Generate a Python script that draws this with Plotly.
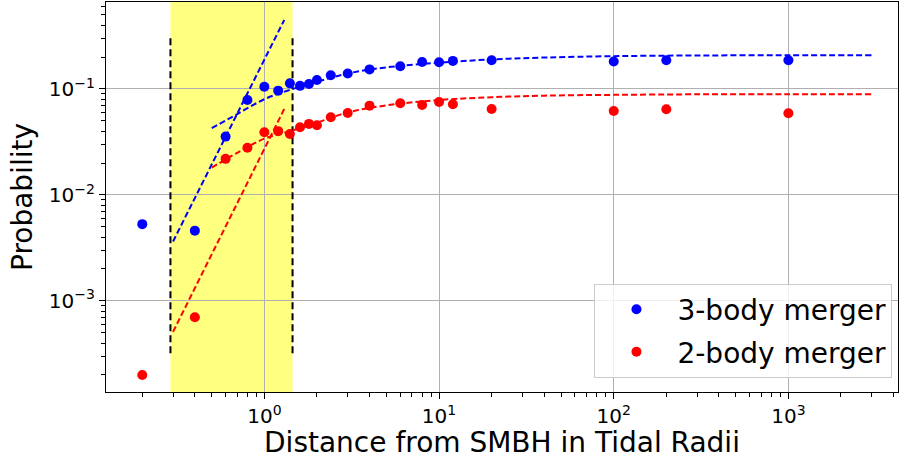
import math
import plotly.graph_objects as go

# Merger probability vs. distance from the SMBH (in tidal radii)
dist = [0.2, 0.4, 0.6, 0.8, 1.0, 1.2, 1.4, 1.6, 1.8, 2.0, 2.4, 3.0, 4.0, 6.0, 8.0,
        10.0, 12.0, 20.0, 100.0, 200.0, 1000.0]
p_three_body = [0.0053, 0.0046, 0.0355, 0.0787, 0.105, 0.0964, 0.113, 0.107, 0.1115,
                0.1216, 0.1345, 0.140, 0.153, 0.164, 0.180, 0.179, 0.184, 0.187,
                0.182, 0.187, 0.187]
p_two_body = [0.0002, 0.0007, 0.0219, 0.0279, 0.039, 0.040, 0.0376, 0.0436, 0.0468,
              0.0455, 0.054, 0.0594, 0.0696, 0.0733, 0.0706, 0.0754, 0.0717, 0.0647,
              0.062, 0.0643, 0.059]

# Saturating fits over the outer region
fit_x = [0.5, 0.7, 1.0, 1.4, 2.0, 3.0, 5.0, 10.0, 20.0, 40.0, 100.0, 300.0, 1000.0, 3000.0]
fit_three_body = [0.0426, 0.058, 0.080, 0.098, 0.117, 0.140, 0.160, 0.177, 0.190,
                  0.198, 0.204, 0.207, 0.208, 0.208]
fit_two_body = [0.0181, 0.025, 0.034, 0.040, 0.048, 0.060, 0.070, 0.0787, 0.0835,
                0.0865, 0.088, 0.089, 0.089, 0.089]

# Steep power-law segments across the inner band
steep_x = [0.30, 1.30]
steep_three_body = [0.00363, 0.448]
steep_two_body = [0.00051, 0.0648]

# Inner band edges and the extent of its dashed markers
band_x = [0.29, 1.45]
band_marker_y = [0.00032, 0.31]

x_range = [0.124, 4240.0]
y_range = [1.38e-4, 0.662]

x_major = [0.1, 1, 10, 100, 1000]
x_major_text = ["10<sup>\u22121</sup>", "10<sup>0</sup>", "10<sup>1</sup>",
                "10<sup>2</sup>", "10<sup>3</sup>"]
y_major = [1e-3, 1e-2, 1e-1]
y_major_text = ["10<sup>\u22123</sup>", "10<sup>\u22122</sup>", "10<sup>\u22121</sup>"]


def minor_ticks(lo, hi):
    vals = []
    for k in range(math.floor(math.log10(lo)), math.ceil(math.log10(hi)) + 1):
        for m in range(2, 10):
            v = m * 10.0 ** k
            if lo <= v <= hi:
                vals.append(v)
    return vals


FONT = "DejaVu Sans"
BLUE = "#0000ff"
RED = "#ff0000"

fig = go.Figure()

for x0 in band_x:
    fig.add_trace(go.Scatter(
        x=[x0, x0], y=band_marker_y, mode="lines",
        line=dict(color="black", width=2, dash="7px,4px"),
        showlegend=False, hoverinfo="skip"))

fig.add_trace(go.Scatter(
    x=steep_x, y=steep_three_body, mode="lines",
    line=dict(color=BLUE, width=2, dash="6px,3px"), showlegend=False))
fig.add_trace(go.Scatter(
    x=steep_x, y=steep_two_body, mode="lines",
    line=dict(color=RED, width=2, dash="6px,3px"), showlegend=False))

fig.add_trace(go.Scatter(
    x=fit_x, y=fit_three_body, mode="lines", line_shape="spline",
    line=dict(color=BLUE, width=2, dash="6px,3px"), showlegend=False))
fig.add_trace(go.Scatter(
    x=fit_x, y=fit_two_body, mode="lines", line_shape="spline",
    line=dict(color=RED, width=2, dash="6px,3px"), showlegend=False))

fig.add_trace(go.Scatter(
    x=dist, y=p_three_body, mode="markers", name="3-body merger",
    legendgroup="a", marker=dict(color=BLUE, size=10)))
fig.add_trace(go.Scatter(
    x=dist, y=p_two_body, mode="markers", name="2-body merger",
    legendgroup="b", marker=dict(color=RED, size=10)))

fig.add_shape(type="rect", xref="x", yref="paper",
              x0=band_x[0], x1=band_x[1], y0=0, y1=1,
              fillcolor="rgb(255,255,128)", line=dict(width=0), layer="below")

axis_common = dict(
    type="log", showline=True, mirror=True, linecolor="black", linewidth=1.2,
    ticks="outside", ticklen=6, tickwidth=1.2, tickcolor="black",
    showgrid=True, gridcolor="#b0b0b0", gridwidth=1, zeroline=False,
    tickfont=dict(family=FONT, size=20, color="black"),
)

fig.update_xaxes(
    **axis_common,
    range=[math.log10(x_range[0]), math.log10(x_range[1])],
    tickmode="array", tickvals=x_major, ticktext=x_major_text,
    minor=dict(tickmode="array", tickvals=minor_ticks(*x_range), ticks="outside",
               ticklen=3.5, tickwidth=1, tickcolor="black", showgrid=False),
    title=dict(text="Distance from SMBH in Tidal Radii",
               font=dict(family=FONT, size=28, color="black"), standoff=6),
)
fig.update_yaxes(
    **axis_common,
    range=[math.log10(y_range[0]), math.log10(y_range[1])],
    tickmode="array", tickvals=y_major, ticktext=y_major_text,
    minor=dict(tickmode="array", tickvals=minor_ticks(*y_range), ticks="outside",
               ticklen=3.5, tickwidth=1, tickcolor="black", showgrid=False),
    title=dict(text="Probability",
               font=dict(family=FONT, size=28, color="black"), standoff=8),
)

fig.update_layout(
    width=902, height=459,
    margin=dict(l=106, r=4, t=2, b=67, autoexpand=False),
    paper_bgcolor="white", plot_bgcolor="white",
    font=dict(family=FONT, color="black"),
    legend=dict(
        x=0.993, y=0.037, xanchor="right", yanchor="bottom",
        bgcolor="rgba(255,255,255,0.8)", bordercolor="#cccccc", borderwidth=1,
        font=dict(family=FONT, size=28, color="black"),
        traceorder="grouped", tracegroupgap=3, itemwidth=72,
    ),
)

fig.write_html("out.html")
